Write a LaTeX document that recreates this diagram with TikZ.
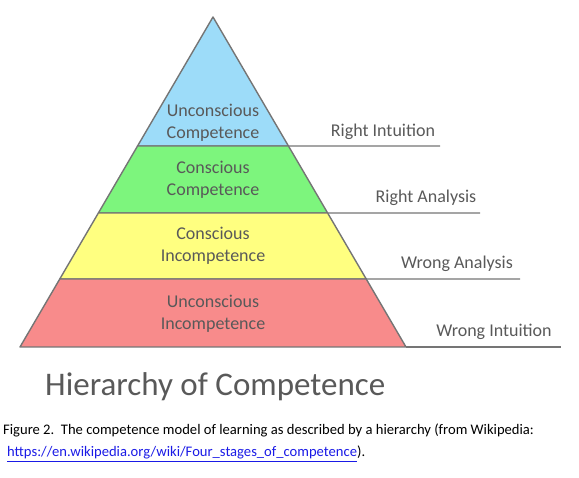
\documentclass[tikz,border=0pt]{standalone}
\usepackage{fontspec}
\setmainfont{Carlito}
\usetikzlibrary{positioning, calc}

\definecolor{txtgrey}{HTML}{595959}
\definecolor{edgegrey}{HTML}{757575}
\definecolor{lvlblue}{HTML}{9DDCF9}
\definecolor{lvlgreen}{HTML}{7DF57D}
\definecolor{lvlyellow}{HTML}{FFFF80}
\definecolor{lvlred}{HTML}{F88B8B}
\definecolor{linkblue}{HTML}{1A1AE6}

\tikzset{
  band/.style  = {draw=edgegrey, line width=1.4pt, line join=round},
  stage/.style = {align=center, text=txtgrey, inner sep=0pt,
                  font=\fontsize{18}{22}\selectfont},
  lbl/.style   = {text=txtgrey, inner sep=0pt, font=\fontsize{18}{22}\selectfont},
  guide/.style = {draw=edgegrey, line width=1.4pt},
  captext/.style = {inner sep=0pt, anchor=base west, font=\fontsize{14.6}{17}\selectfont}
}

\begin{document}
\begin{tikzpicture}[x=1pt, y=-1pt]
  \useasboundingbox (0,0) rectangle (579,478);

  % ── Pyramid outline ──────────────────────────────────────────────────────
  \coordinate (Top) at (213,17);
  \coordinate (BL)  at (20,347);
  \coordinate (BR)  at (406,347);

  % band boundaries along the two slanted edges
  \coordinate (L1) at ($(Top)!0.391!(BL)$);
  \coordinate (R1) at ($(Top)!0.391!(BR)$);
  \coordinate (L2) at ($(Top)!0.594!(BL)$);
  \coordinate (R2) at ($(Top)!0.594!(BR)$);
  \coordinate (L3) at ($(Top)!0.794!(BL)$);
  \coordinate (R3) at ($(Top)!0.794!(BR)$);

  % ── Bands (top to bottom) ────────────────────────────────────────────────
  \filldraw[band, fill=lvlblue]   (Top) -- (R1) -- (L1) -- cycle;
  \filldraw[band, fill=lvlgreen]  (L1) -- (R1) -- (R2) -- (L2) -- cycle;
  \filldraw[band, fill=lvlyellow] (L2) -- (R2) -- (R3) -- (L3) -- cycle;
  \filldraw[band, fill=lvlred]    (L3) -- (R3) -- (BR) -- (BL) -- cycle;

  \node[stage] (UC) at (213,123) {Unconscious\\Competence};
  \node[stage] (CC) at (213,180) {Conscious\\Competence};
  \node[stage] (CI) at (213,246) {Conscious\\Incompetence};
  \node[stage] (UI) at (213,314) {Unconscious\\Incompetence};

  % ── Outcome lines to the right ───────────────────────────────────────────
  \coordinate (RIend) at (440,146);
  \coordinate (RAend) at (480,213);
  \coordinate (WAend) at (520,279);
  \coordinate (WIend) at (561,347);

  \draw[guide] (R1) -- (RIend);
  \draw[guide] (R2) -- (RAend);
  \draw[guide] (R3) -- (WAend);
  \draw[guide] (BR) -- (WIend);

  \node[lbl] (RI) at (383,132) {Right Intuition};
  \node[lbl] (RA) at (426,198) {Right Analysis};
  \node[lbl] (WA) at (457,264) {Wrong Analysis};
  \node[lbl] (WI) at (494,332) {Wrong Intuition};

  % ── Title and caption ────────────────────────────────────────────────────
  \node[captext, text=txtgrey, font=\fontsize{33}{38}\selectfont]
        (title) at (45,396) {Hierarchy of Competence};
  \node[captext] (fig) at (3,435)
        {Figure 2.\ \ The competence model of learning as described by a hierarchy (from Wikipedia:};
  \node[captext] (url) at (7,457)
        {\textcolor{linkblue}{\underline{https://en.wikipedia.org/wiki/Four\_stages\_of\_competence}}).};

\end{tikzpicture}
\end{document}
